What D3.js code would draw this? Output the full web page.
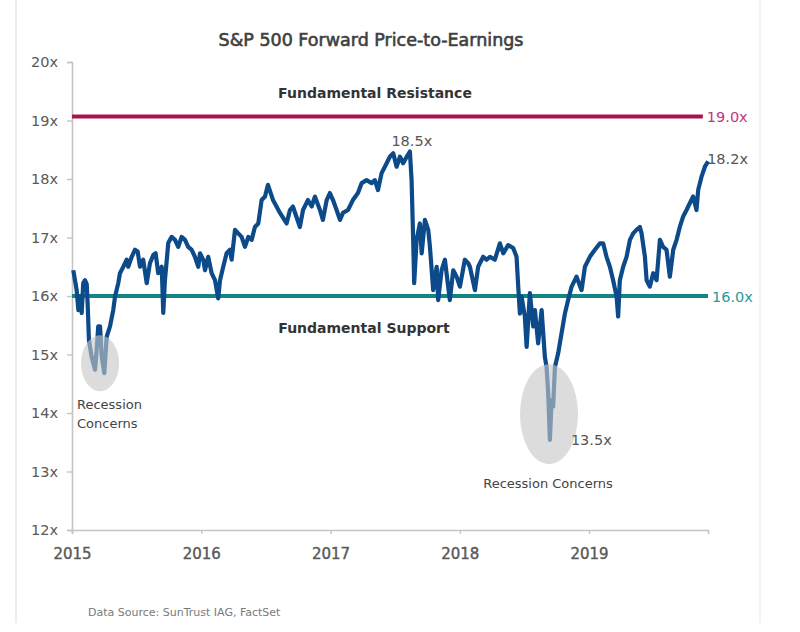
<!DOCTYPE html>
<html>
<head>
<meta charset="utf-8">
<script src="https://cdn.jsdelivr.net/npm/d3@7"></script>
<style>
  html, body { margin: 0; padding: 0; background: #fff; }
  svg { display: block; font-family: "DejaVu Sans", sans-serif; }
</style>
</head>
<body>
<svg id="chart" width="800" height="632"></svg>
<script>
// ── Data ───────────────────────────────────────────────────────────────────

// decimal years
var dates = [
  2015.010, 2015.023, 2015.036, 2015.049, 2015.062, 2015.075, 2015.087, 2015.101,
  2015.114, 2015.121, 2015.131, 2015.152, 2015.178, 2015.191, 2015.203, 2015.217,
  2015.230, 2015.250, 2015.268, 2015.294, 2015.319, 2015.333, 2015.358, 2015.371,
  2015.397, 2015.423, 2015.435, 2015.462, 2015.487, 2015.508, 2015.526, 2015.551,
  2015.578, 2015.603, 2015.629, 2015.647, 2015.667, 2015.694, 2015.706, 2015.719,
  2015.745, 2015.771, 2015.797, 2015.822, 2015.848, 2015.874, 2015.899, 2015.926,
  2015.951, 2015.977, 2015.990, 2016.015, 2016.029, 2016.054, 2016.080, 2016.106,
  2016.131, 2016.145, 2016.170, 2016.196, 2016.222, 2016.235, 2016.261, 2016.286,
  2016.312, 2016.338, 2016.364, 2016.390, 2016.415, 2016.441, 2016.467, 2016.493,
  2016.516, 2016.555, 2016.609, 2016.660, 2016.686, 2016.709, 2016.763, 2016.787,
  2016.825, 2016.854, 2016.879, 2016.918, 2016.941, 2016.970, 2016.995, 2017.019,
  2017.047, 2017.073, 2017.096, 2017.135, 2017.173, 2017.212, 2017.241, 2017.279,
  2017.318, 2017.343, 2017.367, 2017.395, 2017.434, 2017.459, 2017.485, 2017.511,
  2017.537, 2017.562, 2017.589, 2017.614, 2017.627, 2017.640, 2017.647, 2017.666,
  2017.691, 2017.705, 2017.730, 2017.756, 2017.769, 2017.794, 2017.821, 2017.833,
  2017.859, 2017.885, 2017.910, 2017.923, 2017.949, 2017.975, 2018.001, 2018.039,
  2018.065, 2018.078, 2018.117, 2018.142, 2018.181, 2018.207, 2018.233, 2018.271,
  2018.310, 2018.336, 2018.374, 2018.413, 2018.439, 2018.452, 2018.465, 2018.478,
  2018.503, 2018.517, 2018.542, 2018.568, 2018.581, 2018.606, 2018.633, 2018.658,
  2018.671, 2018.684, 2018.697, 2018.710, 2018.722, 2018.736, 2018.761, 2018.787,
  2018.813, 2018.838, 2018.865, 2018.903, 2018.942, 2018.968, 2019.006, 2019.045,
  2019.084, 2019.109, 2019.135, 2019.161, 2019.186, 2019.213, 2019.225, 2019.238,
  2019.264, 2019.290, 2019.316, 2019.341, 2019.367, 2019.393, 2019.406, 2019.432,
  2019.445, 2019.470, 2019.496, 2019.522, 2019.548, 2019.573, 2019.599, 2019.625,
  2019.651, 2019.677, 2019.702, 2019.728, 2019.754, 2019.780, 2019.805, 2019.831,
  2019.844, 2019.870, 2019.896, 2019.921
];

// forward P/E multiple
var forwardPE = [
  16.44, 16.27, 16.10, 15.76, 15.99, 15.71, 16.22, 16.27,
  16.20, 15.87, 15.25, 14.96, 14.74, 15.08, 15.48, 15.48,
  14.96, 14.68, 15.30, 15.48, 15.76, 15.99, 16.22, 16.39,
  16.50, 16.62, 16.50, 16.67, 16.79, 16.76, 16.50, 16.62,
  16.22, 16.56, 16.70, 16.73, 16.39, 16.50, 15.71, 16.27,
  16.91, 17.01, 16.96, 16.84, 17.01, 16.96, 16.84, 16.79,
  16.67, 16.50, 16.73, 16.62, 16.44, 16.67, 16.39, 16.27,
  15.96, 16.27, 16.50, 16.73, 16.79, 16.62, 17.13, 17.07,
  17.01, 16.84, 17.01, 16.96, 17.18, 17.24, 17.64, 17.70,
  17.90, 17.64, 17.42, 17.24, 17.47, 17.53, 17.18, 17.47,
  17.64, 17.53, 17.70, 17.47, 17.30, 17.64, 17.76, 17.64,
  17.47, 17.30, 17.42, 17.47, 17.64, 17.76, 17.93, 17.98,
  17.93, 17.98, 17.81, 18.10, 18.27, 18.38, 18.44, 18.21,
  18.38, 18.27, 18.38, 18.47, 17.98, 16.90, 16.22, 16.96,
  17.24, 16.73, 17.30, 17.13, 16.84, 16.10, 16.50, 15.93,
  16.44, 16.62, 16.16, 15.93, 16.44, 16.33, 16.16, 16.62,
  16.56, 16.50, 16.10, 16.50, 16.67, 16.62, 16.67, 16.62,
  16.90, 16.73, 16.87, 16.82, 16.67, 16.16, 15.70, 15.99,
  15.65, 15.13, 16.05, 15.48, 15.76, 15.19, 15.76, 14.96,
  14.79, 14.34, 13.54, 14.22, 14.11, 14.79, 15.02, 15.36,
  15.70, 15.93, 16.16, 16.33, 16.10, 16.50, 16.67, 16.79,
  16.90, 16.90, 16.67, 16.50, 16.27, 15.99, 15.65, 16.27,
  16.50, 16.67, 16.96, 17.07, 17.13, 17.18, 17.07, 16.67,
  16.27, 16.16, 16.39, 16.27, 16.96, 16.84, 16.79, 16.33,
  16.79, 16.96, 17.18, 17.36, 17.47, 17.59, 17.70, 17.47,
  17.81, 18.04, 18.21, 18.30
];

var yTicks = [12, 13, 14, 15, 16, 17, 18, 19, 20];
var xTicks = [2015, 2016, 2017, 2018, 2019];

var resistance = 19.07;   // drawn a touch above 19 in the original
var support = 16.0;

// ── Layout ────────────────────────────────────────────────────────────────

var margin = { left: 72, right: 92, top: 62, bottom: 102 };
var W = 800, H = 632;

var svg = d3.select('#chart');

var x = d3.scaleLinear().domain([2015, 2019.92]).range([margin.left, W - margin.right]);
var y = d3.scaleLinear().domain([12, 20]).range([H - margin.bottom, margin.top]);

// faint frame around the slide
svg.append('line').attr('x1', 16).attr('x2', 16).attr('y1', 0).attr('y2', 623)
  .attr('stroke', '#e6e6e6').attr('stroke-width', 1.5);
svg.append('line').attr('x1', 760).attr('x2', 760).attr('y1', 0).attr('y2', 623)
  .attr('stroke', '#eeeeee').attr('stroke-width', 1.5);

// title
svg.append('text')
  .attr('x', 371).attr('y', 46)
  .attr('text-anchor', 'middle')
  .attr('font-size', 17.5)
  .attr('fill', '#404040')
  .attr('stroke', '#404040').attr('stroke-width', 0.6)
  .text('S&P 500 Forward Price-to-Earnings');

// ── Axes ──────────────────────────────────────────────────────────────────

var yAxis = svg.append('g')
  .attr('transform', 'translate(' + margin.left + ',0)')
  .call(d3.axisLeft(y).tickValues(yTicks).tickSize(5).tickPadding(9)
    .tickFormat(function(d) { return d + 'x'; }));

var xAxis = svg.append('g')
  .attr('transform', 'translate(0,' + (H - margin.bottom) + ')')
  .call(d3.axisBottom(x).tickValues(xTicks).tickSize(4).tickPadding(14)
    .tickFormat(d3.format('d')));

[yAxis, xAxis].forEach(function(g) {
  g.select('.domain').attr('stroke', '#c4c4c4').attr('stroke-width', 1.6);
  g.selectAll('.tick line').attr('stroke', '#c4c4c4').attr('stroke-width', 1.4);
  g.selectAll('.tick text')
    .attr('fill', '#595959')
    .attr('font-family', '"DejaVu Sans", sans-serif');
});
yAxis.selectAll('.tick text').attr('font-size', 14.5);
xAxis.selectAll('.tick text').attr('font-size', 15)
  .attr('stroke', '#595959').attr('stroke-width', 0.4);

// ── Reference lines ───────────────────────────────────────────────────────

svg.append('line')
  .attr('x1', x(2015)).attr('x2', x(2019.88))
  .attr('y1', y(resistance)).attr('y2', y(resistance))
  .attr('stroke', '#a8124f').attr('stroke-width', 4);

svg.append('line')
  .attr('x1', x(2015)).attr('x2', x(2019.92))
  .attr('y1', y(support)).attr('y2', y(support))
  .attr('stroke', '#138585').attr('stroke-width', 4);

// ── Series ────────────────────────────────────────────────────────────────

var series = dates.map(function(d, i) { return { t: d, v: forwardPE[i] }; });

var line = d3.line()
  .x(function(d) { return x(d.t); })
  .y(function(d) { return y(d.v); });

svg.append('path')
  .datum(series)
  .attr('d', line)
  .attr('fill', 'none')
  .attr('stroke', '#0c4a8a')
  .attr('stroke-width', 4.2)
  .attr('stroke-linejoin', 'round');

// recession highlights (drawn on top, semi-transparent)
svg.append('ellipse')
  .attr('cx', x(2015.217)).attr('cy', y(14.85))
  .attr('rx', 19).attr('ry', 28)
  .attr('fill', '#c6c6c6').attr('fill-opacity', 0.62);

svg.append('ellipse')
  .attr('cx', x(2018.69)).attr('cy', y(13.98))
  .attr('rx', 29).attr('ry', 50)
  .attr('fill', '#c6c6c6').attr('fill-opacity', 0.62);

// ── Labels ────────────────────────────────────────────────────────────────

function label(txt, px, py, opts) {
  opts = opts || {};
  return svg.append('text')
    .attr('x', px).attr('y', py)
    .attr('text-anchor', opts.anchor || 'start')
    .attr('font-size', opts.size || 14)
    .attr('font-weight', opts.weight || 'normal')
    .attr('fill', opts.fill || '#4a4a4a')
    .text(txt);
}

label('Fundamental Resistance', 375, 98, { anchor: 'middle', size: 14, weight: 'bold', fill: '#333' });
label('Fundamental Support', 364, 333, { anchor: 'middle', size: 14, weight: 'bold', fill: '#333' });

label('19.0x', x(2019.88) + 4, y(resistance) + 6, { size: 14.5, fill: '#c2367a' });
label('16.0x', x(2019.92) + 4, y(support) + 6, { size: 14.5, fill: '#2a9a9a' });

label('18.5x', x(2017.61) - 18, y(18.47) - 6, { size: 14.5, fill: '#555' });
label('18.2x', x(2019.921) - 1, y(18.30) + 3, { size: 14.5, fill: '#555' });
label('13.5x', x(2018.697) + 21, y(13.54) + 5, { size: 14.5, fill: '#555' });

label('Recession', 77, 409, { size: 13, fill: '#444' });
label('Concerns', 77, 428, { size: 13, fill: '#444' });
label('Recession Concerns', 548, 488, { anchor: 'middle', size: 13, fill: '#444' });

label('Data Source: SunTrust IAG, FactSet', 88, 616, { size: 11, fill: '#7a7a7a' });
</script>
</body>
</html>
